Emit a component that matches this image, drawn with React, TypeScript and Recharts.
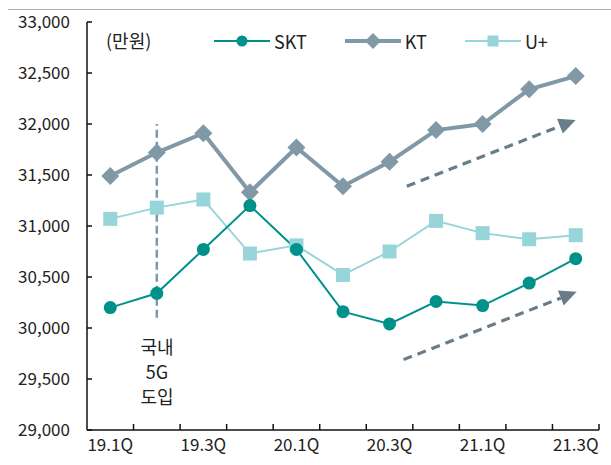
import React from 'react';
import { LineChart, Line, XAxis, YAxis, Legend, ReferenceLine } from 'recharts';

// quarters on the x axis
const quarters = ['19.1Q', '19.2Q', '19.3Q', '19.4Q', '20.1Q', '20.2Q', '20.3Q', '20.4Q', '21.1Q', '21.2Q', '21.3Q'];

// values (unit: 만원)
const sktValues = [30200, 30340, 30770, 31200, 30770, 30160, 30040, 30260, 30220, 30440, 30680];
const ktValues = [31490, 31720, 31910, 31330, 31770, 31390, 31630, 31940, 32000, 32340, 32470];
const uplusValues = [31070, 31180, 31260, 30730, 30810, 30520, 30750, 31050, 30930, 30870, 30910];

const yTicks = [29000, 29500, 30000, 30500, 31000, 31500, 32000, 32500, 33000];

// x positions are category index + 0.5 (band centre); integers are the band edges
const labelTicks = [0.5, 2.5, 4.5, 6.5, 8.5, 10.5];
const edgeTicks = [0, 1, 2, 3, 4, 5, 6, 7, 8, 9, 10, 11];

// "국내 5G 도입" marker at 19.2Q
const launchX = 1.5;
const launchRange = [30100, 32000];

// trend arrows (from -> to, in data units)
const arrowUpper = { from: [6.87, 31390], to: [10.5, 32040] };
const arrowLower = { from: [6.8, 29690], to: [10.52, 30355] };

const COLORS = {
  skt: '#00928a',
  kt: '#8199a6',
  uplus: '#97d5da',
  arrow: '#697d89',
  axis: '#111',
};

const FONT = '"Noto Sans CJK KR", "Noto Sans", sans-serif';

const DIAMOND_R = 9;
const SQUARE_S = 14;

const rows = quarters.map((q, i) => ({
  q,
  x: i + 0.5,
  skt: sktValues[i],
  kt: ktValues[i],
  uplus: uplusValues[i],
}));

const fmt = (v: number) => v.toLocaleString('en-US');

const XTick = (props: any) => {
  const { x, y, payload } = props;
  const v = payload.value;
  if (Number.isInteger(v)) {
    if (v === 0) return <g />;
    return <line x1={x} x2={x} y1={y - 9} y2={y - 15} stroke={COLORS.axis} strokeWidth={1.5} />;
  }
  const i = Math.floor(v);
  return (
    <text x={x} y={y} dy="0.71em" textAnchor="middle" fill="#222" fontSize={17} fontFamily={FONT}>
      {quarters[i]}
    </text>
  );
};

const Diamond = (props: any) => {
  const { cx, cy, index } = props;
  const r = DIAMOND_R;
  if (cx == null || cy == null) return <g key={`kt-${index}`} />;
  return (
    <path
      key={`kt-${index}`}
      d={`M${cx},${cy - r} L${cx + r},${cy} L${cx},${cy + r} L${cx - r},${cy} Z`}
      fill={COLORS.kt}
    />
  );
};

const Square = (props: any) => {
  const { cx, cy, index } = props;
  const s = SQUARE_S;
  if (cx == null || cy == null) return <g key={`up-${index}`} />;
  return <rect key={`up-${index}`} x={cx - s / 2} y={cy - s / 2} width={s} height={s} fill={COLORS.uplus} />;
};

const Arrow = (props: any) => {
  const { x1, y1, x2, y2 } = props;
  if (x1 == null) return <g />;
  const dx = x2 - x1;
  const dy = y2 - y1;
  const len = Math.sqrt(dx * dx + dy * dy);
  const ux = dx / len;
  const uy = dy / len;
  const head = 17;
  const half = 8;
  const bx = x2 - ux * head;
  const by = y2 - uy * head;
  return (
    <g>
      <line x1={x1} y1={y1} x2={bx} y2={by} stroke={COLORS.arrow} strokeWidth={3.2} strokeDasharray="9 6" />
      <polygon
        points={`${x2},${y2} ${bx - uy * half},${by + ux * half} ${bx + uy * half},${by - ux * half}`}
        fill={COLORS.arrow}
      />
    </g>
  );
};

const legendItems = [
  { name: 'SKT', color: COLORS.skt, width: 2, marker: 'circle' },
  { name: 'KT', color: COLORS.kt, width: 4, marker: 'diamond' },
  { name: 'U+', color: COLORS.uplus, width: 2, marker: 'square' },
];

const renderLegend = () => (
  <div style={{ display: 'flex', alignItems: 'center', fontFamily: FONT, fontSize: 18, color: '#222' }}>
    {legendItems.map((it) => (
      <div key={it.name} style={{ display: 'flex', alignItems: 'center', marginRight: 38 }}>
        <svg width={56} height={20} style={{ marginRight: 4 }}>
          <line x1={0} x2={56} y1={10} y2={10} stroke={it.color} strokeWidth={it.width} />
          {it.marker === 'circle' && <circle cx={28} cy={10} r={5.5} fill={it.color} />}
          {it.marker === 'diamond' && <path d="M28,2 L36,10 L28,18 L20,10 Z" fill={it.color} />}
          {it.marker === 'square' && <rect x={22.5} y={4.5} width={11} height={11} fill={it.color} />}
        </svg>
        <span>{it.name}</span>
      </div>
    ))}
  </div>
);

export default function App() {
  return (
    <div style={{ position: 'absolute', left: 0, top: 0, width: 611, height: 465, background: '#fff' }}>
      <div style={{ position: 'absolute', left: 8, right: 0, top: 9, borderTop: '1px solid #a9b4bf' }} />
      <LineChart width={611} height={465} data={rows} margin={{ top: 22, right: 12, bottom: 0, left: 0 }}>
        <XAxis
          dataKey="x"
          type="number"
          domain={[0, 11]}
          ticks={[...edgeTicks, ...labelTicks].sort((a, b) => a - b)}
          interval={0}
          tick={<XTick />}
          tickLine={false}
          tickSize={0}
          tickMargin={9}
          height={35}
          axisLine={{ stroke: COLORS.axis, strokeWidth: 1.5 }}
          allowDataOverflow
        />
        <YAxis
          domain={[29000, 33000]}
          ticks={yTicks}
          interval={0}
          width={87}
          tickFormatter={fmt}
          tickSize={-5}
          tickMargin={22}
          tickLine={{ stroke: COLORS.axis, strokeWidth: 1.5 }}
          axisLine={{ stroke: COLORS.axis, strokeWidth: 1.5 }}
          tick={{ fill: '#222', fontSize: 17, fontFamily: FONT }}
          allowDataOverflow
        />
        <Legend
          verticalAlign="middle"
          align="center"
          layout="horizontal"
          content={renderLegend}
          wrapperStyle={{ top: 28, left: 214, width: 'auto', height: 'auto' }}
        />
        <ReferenceLine
          segment={[
            { x: launchX, y: launchRange[0] },
            { x: launchX, y: launchRange[1] },
          ]}
          stroke={COLORS.kt}
          strokeWidth={2.5}
          strokeDasharray="8 4"
        />
        <ReferenceLine
          segment={[
            { x: arrowUpper.from[0], y: arrowUpper.from[1] },
            { x: arrowUpper.to[0], y: arrowUpper.to[1] },
          ]}
          shape={<Arrow />}
        />
        <ReferenceLine
          segment={[
            { x: arrowLower.from[0], y: arrowLower.from[1] },
            { x: arrowLower.to[0], y: arrowLower.to[1] },
          ]}
          shape={<Arrow />}
        />
        <Line
          dataKey="uplus"
          name="U+"
          stroke={COLORS.uplus}
          strokeWidth={2}
          dot={(p: any) => <Square {...p} key={`up-${p.index}`} />}
          activeDot={false}
          isAnimationActive={false}
        />
        <Line
          dataKey="kt"
          name="KT"
          stroke={COLORS.kt}
          strokeWidth={4}
          dot={(p: any) => <Diamond {...p} key={`kt-${p.index}`} />}
          activeDot={false}
          isAnimationActive={false}
        />
        <Line
          dataKey="skt"
          name="SKT"
          stroke={COLORS.skt}
          strokeWidth={2}
          dot={{ r: 6.5, fill: COLORS.skt, stroke: COLORS.skt, strokeWidth: 0 }}
          activeDot={false}
          isAnimationActive={false}
        />
      </LineChart>
      <div style={{ position: 'absolute', left: 106, top: 27, fontFamily: FONT, fontSize: 18, color: '#222' }}>
        (만원)
      </div>
      <div
        style={{
          position: 'absolute',
          left: 122,
          top: 334,
          width: 70,
          textAlign: 'center',
          fontFamily: FONT,
          fontSize: 18,
          lineHeight: '25px',
          color: '#222',
        }}
      >
        국내
        <br />
        5G
        <br />
        도입
      </div>
    </div>
  );
}
